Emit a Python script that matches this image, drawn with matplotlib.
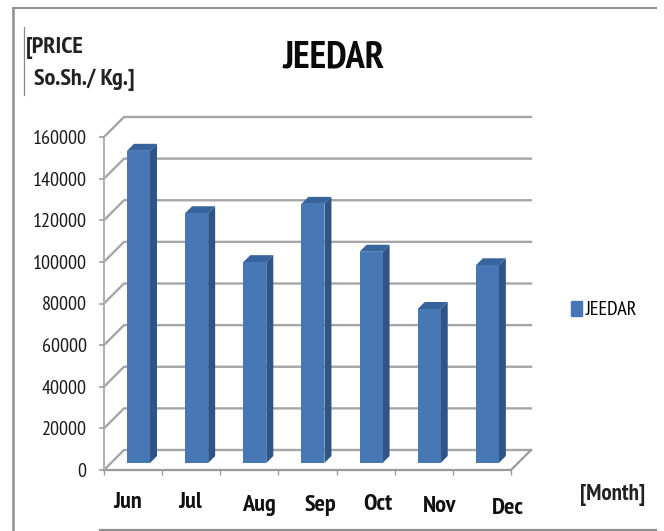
import matplotlib
matplotlib.use("Agg")
import matplotlib.pyplot as plt
from matplotlib.lines import Line2D
from matplotlib.patches import Patch

months = ["Jun", "Jul", "Aug", "Sep", "Oct", "Nov", "Dec"]
prices = [150000, 120000, 96500, 124500, 101500, 74000, 95000]
y_ticks = list(range(0, 160001, 20000))
series_name = "JEEDAR"
month_label_px = [(128, 503), (190, 503), (259, 506), (320, 505), (378, 505), (440, 507), (508, 508)]

W, H = 664, 531
FONT = ["PT Sans Narrow", "Archivo Narrow", "Liberation Sans", "DejaVu Sans"]
plt.rcParams["font.family"] = FONT

fig = plt.figure(figsize=(W / 100, H / 100), dpi=100, facecolor="white")
L, R, T, B = 104, 511, 137, 470
ax = fig.add_axes([L / W, 1 - B / H, (R - L) / W, (B - T) / H])
ax.set_xlim(0, 7)
ax.set_ylim(0, 160000)
ax.patch.set_visible(False)
for s in ax.spines.values():
    s.set_visible(False)

DX = 20 / ((R - L) / 7)
DY = 20 * 160000 / (B - T)


def proj(x, v, d):
    return x + d * DX, v + d * DY


GRID = "#a6a6a6"
for v in y_ticks:
    x0, y0 = proj(0, v, 0)
    x1, y1 = proj(0, v, 1)
    x2, y2 = proj(7, v, 1)
    ax.plot([x0, x1, x2], [y0, y1, y1], color=GRID, lw=1.7, zorder=1, clip_on=False,
            solid_joinstyle="miter")
# floor and front axes
fx, fy = proj(7, 0, 1)
ax.plot([0, 7, fx], [0, 0, fy], color="#9a9a9a", lw=1.6, zorder=1, clip_on=False)
ax.plot([0, 0], [0, 160000], color="#b0b0b0", lw=1.4, zorder=1, clip_on=False)

WIDTH = 0.396
d0, d1 = 0.35, 0.70
for i, v in enumerate(prices):
    xl = i + 0.473 - WIDTH / 2
    xr = xl + WIDTH
    front = [proj(xl, 0, d0), proj(xr, 0, d0), proj(xr, v, d0), proj(xl, v, d0)]
    side = [proj(xr, 0, d0), proj(xr, 0, d1), proj(xr, v, d1), proj(xr, v, d0)]
    top = [proj(xl, v, d0), proj(xr, v, d0), proj(xr, v, d1), proj(xl, v, d1)]
    ax.fill(*zip(*side), color="#2f5587", lw=0, zorder=3, clip_on=False)
    ax.fill(*zip(*top), color="#37649c", lw=0, zorder=3, clip_on=False)
    ax.fill(*zip(*front), color="#4777b5", lw=0, zorder=4, clip_on=False)

ax.set_yticks(y_ticks)
ax.set_yticklabels([str(v) for v in y_ticks], fontsize=14.5, fontweight="normal", color="#1a1a1a")
ax.set_xticks(range(8))
ax.set_xticklabels([])
ax.tick_params(axis="y", length=3.5, width=1.1, color="#9a9a9a", pad=9)
ax.tick_params(axis="x", length=3.5, width=1.0, color="#9a9a9a", direction="out")


def px_text(x, y, s, **kw):
    fig.text(x / W, 1 - y / H, s, ha=kw.pop("ha", "center"), va="center", **kw)


for (x, y), m in zip(month_label_px, months):
    px_text(x, y, m, fontsize=17.5, fontweight="bold", color="#111111")
px_text(334, 58, series_name, fontsize=27.5, fontweight="bold", color="#0a0a0a")
px_text(26, 48, "[PRICE", ha="left", fontsize=17.5, fontweight="bold", color="#222222")
px_text(34, 80, "So.Sh./ Kg.]", ha="left", fontsize=17.5, fontweight="bold", color="#222222")
px_text(613, 495, "[Month]", fontsize=16.5, fontweight="bold", color="#222222")

leg = fig.legend(handles=[Patch(color="#4777b5", label=series_name)],
                 loc="center left", bbox_to_anchor=(571 / W, 1 - 310 / H), frameon=False,
                 fontsize=14.5, handlelength=0.55, handleheight=0.75, handletextpad=0.15,
                 borderpad=0, borderaxespad=0)

FRAME = "#8f8f8f"
fig.add_artist(Line2D([13 / W, 13 / W], [0, 1 - 8 / H], color=FRAME, lw=1.8))
fig.add_artist(Line2D([13 / W, 656 / W], [1 - 8 / H, 1 - 8 / H], color=FRAME, lw=1.4))
fig.add_artist(Line2D([100 / W, 656 / W], [1 - 530 / H, 1 - 530 / H], color=FRAME, lw=1.6))
fig.add_artist(Line2D([23.5 / W, 23.5 / W], [1 - 27 / H, 1 - 95 / H], color="#888888", lw=0.9))

fig.savefig("out.png", dpi=100, facecolor="white")
